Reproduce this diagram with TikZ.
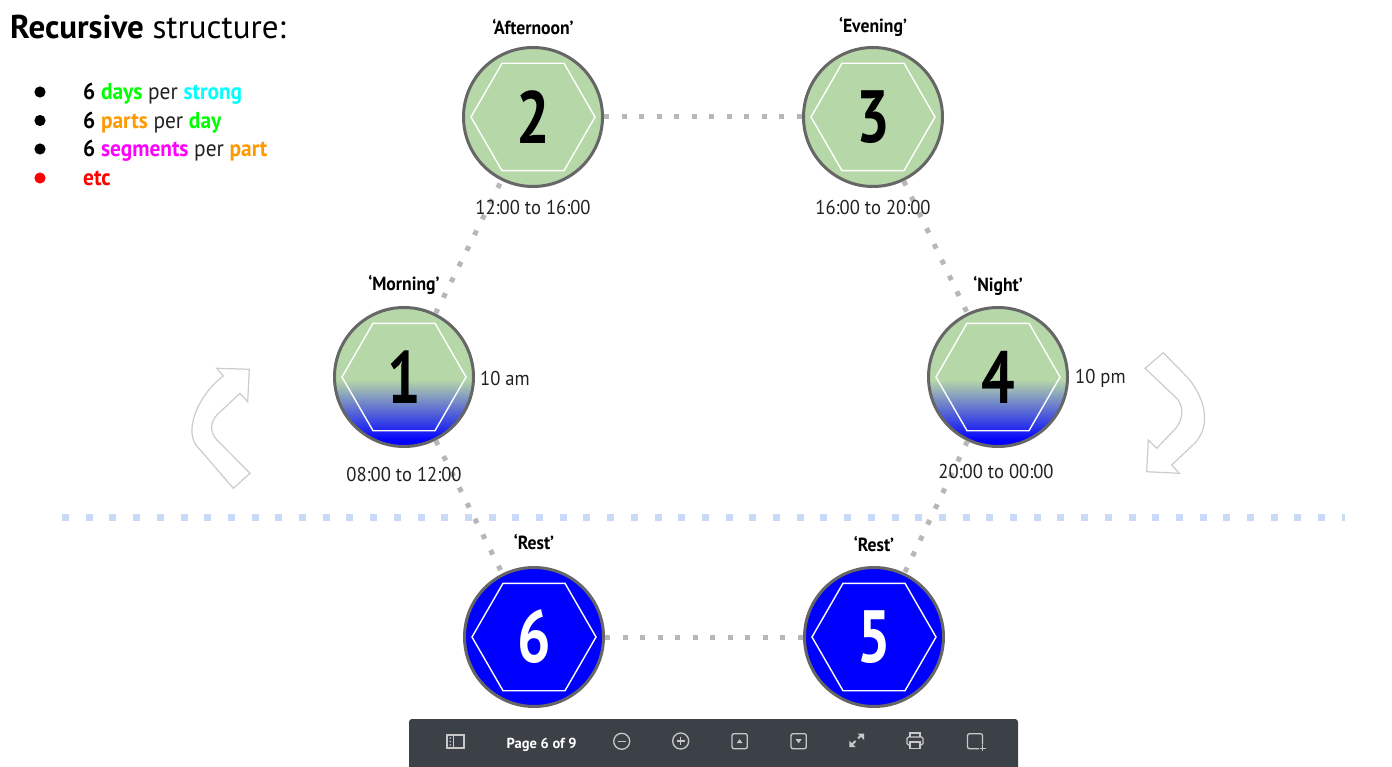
\documentclass[tikz,border=0pt]{standalone}
\usepackage{fontspec}
\setmainfont{PT Sans}[FakeStretch=0.93]
\newfontfamily\titlefont{PT Sans}
\newfontfamily\numfont{PT Sans}[FakeStretch=0.8]
\usetikzlibrary{calc}
\definecolor{gfill}{HTML}{B6D7A8}
\definecolor{ringgray}{HTML}{666666}
\definecolor{dotgray}{HTML}{B7B7B7}
\definecolor{dotblue}{HTML}{C9DAF8}
\definecolor{arrowgray}{HTML}{CCCCCC}
\definecolor{barbg}{HTML}{3C4148}
\definecolor{icongray}{HTML}{C8C8C8}
\definecolor{txtgray}{HTML}{222222}
\definecolor{cgreen}{HTML}{00FF00}
\definecolor{ccyan}{HTML}{00FFFF}
\definecolor{corange}{HTML}{FF9900}
\definecolor{cmagenta}{HTML}{FF00FF}
\definecolor{cred}{HTML}{FF0000}
\pgfdeclareverticalshading{gbshade}{100bp}{color(0bp)=(blue); color(27bp)=(blue); color(49bp)=(gfill); color(100bp)=(gfill)}
\newcommand\myhex[1]{\draw[hexline] ($(#1)+(62,0)$) -- ($(#1)+(31,53.7)$) -- ($(#1)+(-31,53.7)$) -- ($(#1)+(-62,0)$) -- ($(#1)+(-31,-53.7)$) -- ($(#1)+(31,-53.7)$) -- cycle;}
\tikzset{
  disc/.style={circle, draw=ringgray, line width=3pt, minimum size=139pt, inner sep=0pt,
    font=\numfont\fontsize{74}{74}\selectfont\bfseries},
  gdisc/.style={disc, fill=gfill},
  bdisc/.style={disc, fill=blue, text=white},
  sdisc/.style={disc, shade, shading=gbshade},
  hexline/.style={draw=white, line width=1.4pt},
  gdots/.style={draw=dotgray, line width=5pt, dash pattern=on 5pt off 12.5pt},
  bdots/.style={draw=dotblue, line width=7pt, dash pattern=on 7pt off 16.7pt},
  lbl/.style={font=\fontsize{19}{19}\selectfont\bfseries, inner sep=0pt},
  tlbl/.style={font=\fontsize{20}{20}\selectfont, text=txtgray, inner sep=0pt},
  bullet/.style={font=\fontsize{23}{23}\selectfont, anchor=base west, inner sep=0pt},
  curvarrow/.style={draw=arrowgray, line width=1.2pt, fill=white, line join=miter},
  icon/.style={draw=icongray, line width=1.3pt},
}
\begin{document}
\begin{tikzpicture}[x=1pt, y=-1pt]
\useasboundingbox (0,0) rectangle (1392,767);
\fill[white] (0,0) rectangle (1392,767);

% horizontal blue dotted line
\coordinate (hl) at (62,517);
\coordinate (hr) at (1345,517);
\draw[bdots] (hl) -- (hr);

% circles
\node[sdisc] (c1) at (404,377) {1};
\node[gdisc] (c2) at (533,117) {2};
\node[gdisc] (c3) at (873,117) {3};
\node[sdisc] (c4) at (998,377) {4};
\node[bdisc] (c5) at (874,637) {5};
\node[bdisc] (c6) at (534,637) {6};
\myhex{c1}\myhex{c2}\myhex{c3}\myhex{c4}\myhex{c5}\myhex{c6}

% connectors
\draw[gdots] (c1) -- (c2);
\draw[gdots] (c2) -- (c3);
\draw[gdots] (c3) -- (c4);
\draw[gdots] (c4) -- (c5);
\draw[gdots] (c6) -- (c5);
\draw[gdots] (c1) -- (c6);

% labels
\node[lbl] (l2) at (533,27) {‘Afternoon’};
\node[lbl] (l3) at (873,27) {‘Evening’};
\node[lbl] (l1) at (404,285) {‘Morning’};
\node[lbl] (l4) at (998,286) {‘Night’};
\node[lbl] (l6) at (534,542) {‘Rest’};
\node[lbl] (l5) at (874,544) {‘Rest’};
\node[tlbl] (t2) at (533,208) {12:00 to 16:00};
\node[tlbl] (t3) at (873,208) {16:00 to 20:00};
\node[tlbl] (t1) at (404,474) {08:00 to 12:00};
\node[tlbl] (t4) at (996,471) {20:00 to 00:00};
\node[tlbl, anchor=west] (am) at (480,378) {10 am};
\node[tlbl, anchor=west] (pm) at (1075,378) {10 pm};

% title and bullets
\node[anchor=base west, inner sep=0pt, font=\titlefont\fontsize{33}{33}\selectfont] (title) at (10,39)
  {\textbf{Recursive} structure:};
\foreach \yy/\cc [count=\i] in {92/black,120.5/black,149/black,178/cred}
  \fill[\cc] (40,\yy) circle (5.6);
\node[bullet] (b1) at (83,100) {\textbf{6} \textcolor{cgreen}{\textbf{days}} \textcolor{txtgray}{per} \textcolor{ccyan}{\textbf{strong}}};
\node[bullet] (b2) at (83,128.5) {\textbf{6} \textcolor{corange}{\textbf{parts}} \textcolor{txtgray}{per} \textcolor{cgreen}{\textbf{day}}};
\node[bullet] (b3) at (83,157) {\textbf{6} \textcolor{cmagenta}{\textbf{segments}} \textcolor{txtgray}{per} \textcolor{corange}{\textbf{part}}};
\node[bullet] (b4) at (83,186) {\textcolor{cred}{\textbf{etc}}};

% curved arrows
\draw[curvarrow] (249.3,369.3) -- (216.7,368.3) -- (223.3,376)
  .. controls (200,393) and (184,428) .. (196,445) -- (233.3,488.3) -- (250,473.3)
  -- (217,440) .. controls (209,431) and (210,421) .. (219,413) -- (240,393.3)
  -- (247.7,401.7) -- cycle;
\draw[curvarrow] (1145,368.3) -- (1163.3,352.7) -- (1188,378)
  .. controls (1200,392) and (1214,420) .. (1196,442) -- (1171.7,465)
  -- (1179.3,473.3) -- (1146.7,471.7) -- (1148.3,440) -- (1156.7,448.3)
  -- (1176,428) .. controls (1184,418) and (1184,404) .. (1175,396.7) -- cycle;

% toolbar
\fill[barbg, rounded corners=3pt] (409,719) rectangle (1018,775);
\node[anchor=base, inner sep=0pt, text=white, font=\titlefont\fontsize{14.5}{14.5}\selectfont\bfseries] (page) at (541.7,748) {Page 6 of 9};
% sidebar icon
\draw[icon] (447,735) rectangle (464,748);
\draw[icon] (453.3,735) -- (453.3,748);
\foreach \yy in {738,741.5,745} \fill[icongray] (450.2,\yy) circle (0.9);
% zoom out / in
\draw[icon] (621.7,741.3) circle (8);
\draw[icon] (617.5,741.3) -- (625.9,741.3);
\draw[icon] (680.7,741) circle (8);
\draw[icon] (676.5,741) -- (684.9,741) (680.7,736.8) -- (680.7,745.2);
% prev / next
\draw[icon, rounded corners=2pt] (732,733.7) rectangle (747.3,748.7);
\fill[icongray] (736.6,743.2) -- (742.6,743.2) -- (739.6,739.2) -- cycle;
\draw[icon, rounded corners=2pt] (791,733.7) rectangle (806.3,748.7);
\fill[icongray] (795.6,739.2) -- (801.6,739.2) -- (798.6,743.2) -- cycle;
% expand
\draw[icon, line width=1.8pt] (851.5,745) -- (855.5,741) (858,738.5) -- (862,734.5);
\fill[icongray] (849.3,747.2) -- (849.3,740.7) -- (855.8,747.2) -- cycle;
\fill[icongray] (864.2,733.5) -- (857.7,733.5) -- (864.2,740) -- cycle;
% printer
\draw[icon] (910,737) -- (910,733) -- (920,733) -- (920,737);
\draw[icon, rounded corners=1.5pt] (910,745) -- (907,745) -- (907,737) -- (923,737) -- (923,745) -- (920,745);
\draw[icon] (910,742) rectangle (920,748.5);
% add square
\draw[icon, rounded corners=2pt] (979,748.7) -- (967.5,748.7) -- (967.5,733.7) -- (982.5,733.7) -- (982.5,744.5);
\draw[icon, line width=1pt] (979.5,748.3) -- (985.5,748.3) (982.5,745.3) -- (982.5,751.3);
\end{tikzpicture}
\end{document}
